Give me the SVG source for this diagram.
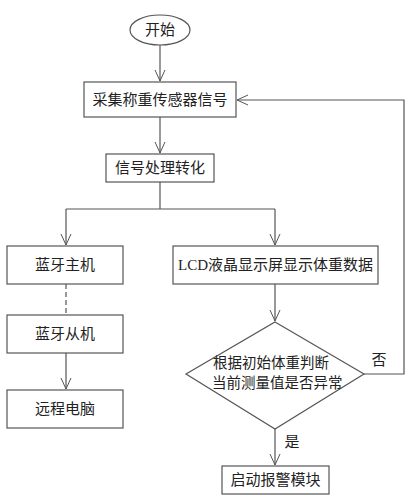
<svg xmlns="http://www.w3.org/2000/svg" width="411" height="500" viewBox="0 0 411 500">
<defs>
<marker id="arr" markerWidth="12" markerHeight="14" refX="11" refY="7" orient="auto" markerUnits="userSpaceOnUse">
<path d="M0,2 L11,7 L0,12" fill="none" stroke="#555" stroke-width="1"/>
</marker>
</defs>
<style>
.n{fill:#fff;stroke:#555;stroke-width:1.2}
.t{font-family:"Liberation Serif","Noto Sans CJK SC",serif;font-size:15px;fill:#222;text-anchor:middle;dominant-baseline:central}
.c{fill:none;stroke:#555;stroke-width:1.2}
</style>
<rect width="411" height="500" fill="#fff"/>
<g id="connectors">
<path class="c" d="M160,45 V81" marker-end="url(#arr)"/>
<path class="c" d="M160,117 V153" marker-end="url(#arr)"/>
<path class="c" d="M160,182 V209 M66,209 H275"/>
<path class="c" d="M66,209 V245" marker-end="url(#arr)"/>
<path class="c" d="M275,209 V245" marker-end="url(#arr)"/>
<path class="c" d="M66,284 V315" stroke-dasharray="5,3"/>
<path class="c" d="M66,353 V389" marker-end="url(#arr)"/>
<path class="c" d="M275,284 V321" marker-end="url(#arr)"/>
<path class="c" d="M364,374 H404 V100 H237" marker-end="url(#arr)"/>
<path class="c" d="M275,429 V465" marker-end="url(#arr)"/>
<text class="t" x="379" y="360">否</text>
<text class="t" x="292" y="442">是</text>
</g>
<g id="start"><ellipse class="n" cx="160" cy="30" rx="30" ry="15"/><text class="t" x="160" y="30">开始</text></g>
<g id="collect"><rect class="n" x="84" y="82" width="152" height="35"/><text class="t" x="160" y="99.5">采集称重传感器信号</text></g>
<g id="process"><rect class="n" x="106" y="154" width="108" height="28"/><text class="t" x="160" y="168">信号处理转化</text></g>
<g id="bt-master"><rect class="n" x="7" y="246" width="116" height="38"/><text class="t" x="65" y="265">蓝牙主机</text></g>
<g id="lcd"><rect class="n" x="173" y="246" width="205" height="38"/><text class="t" x="275.5" y="265">LCD液晶显示屏显示体重数据</text></g>
<g id="bt-slave"><rect class="n" x="7" y="315" width="116" height="38"/><text class="t" x="65" y="334">蓝牙从机</text></g>
<g id="pc"><rect class="n" x="7" y="390" width="116" height="38"/><text class="t" x="65" y="409">远程电脑</text></g>
<g id="decision"><polygon class="n" points="275,322 364,374 275,429 186,374"/>
<text class="t" x="213" y="363" style="text-anchor:start;font-size:14.5px">根据初始体重判断</text>
<text class="t" x="212" y="383" style="text-anchor:start;font-size:14.5px">当前测量值是否异常</text></g>
<g id="alarm"><rect class="n" x="222" y="466" width="107" height="28"/><text class="t" x="275.5" y="480">启动报警模块</text></g>
</svg>
